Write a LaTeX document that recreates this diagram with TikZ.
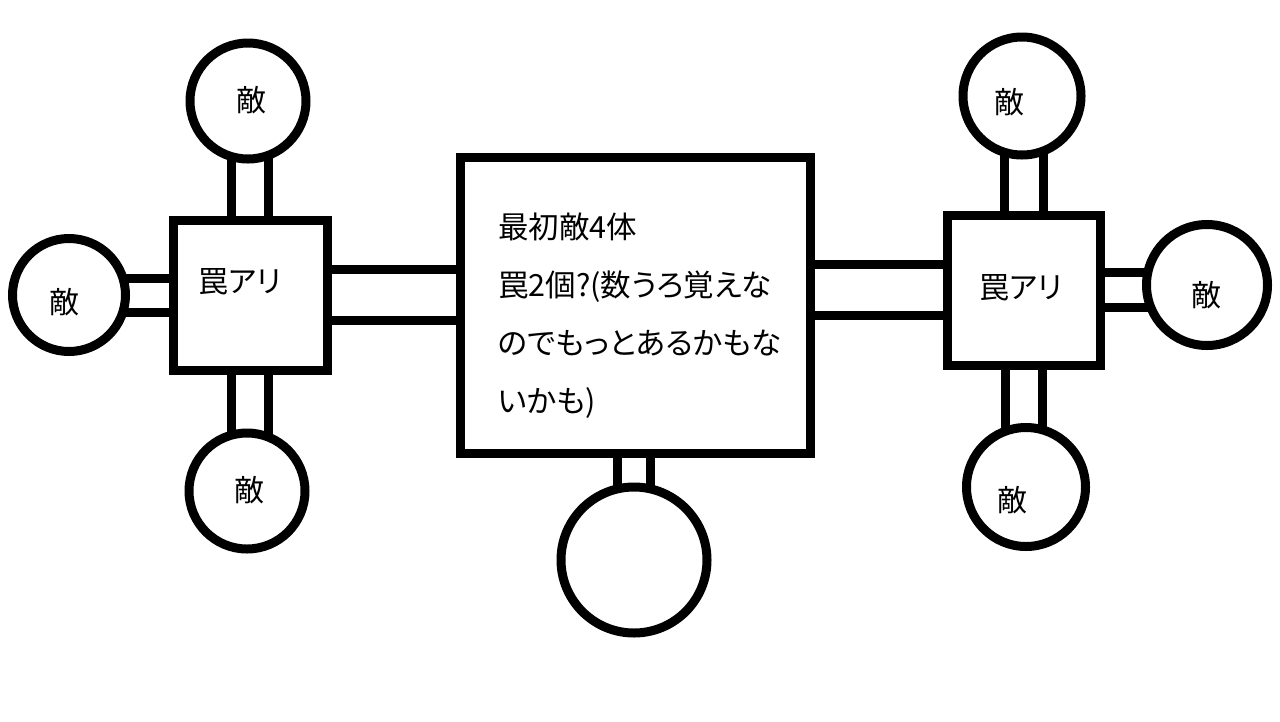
\documentclass[tikz,border=0pt]{standalone}
\usepackage{fontspec}
\newfontfamily\jpfont[RawFeature=+palt]{Noto Sans CJK JP}
\usetikzlibrary{backgrounds}

\tikzset{
  room/.style={draw, line width=9pt, fill=white, rectangle, inner sep=0pt},
  enemy/.style={draw, line width=9pt, fill=white, circle, inner sep=0pt},
  tag/.style={inner sep=0pt, font=\jpfont\fontsize{30}{36}\selectfont},
  memo/.style={inner sep=0pt, align=left,
    font=\jpfont\fontsize{30.5}{58}\selectfont},
  corridor/.style={line width=9pt, double=white, double distance=28pt},
  hall/.style={corridor, double distance=42pt},
}

\begin{document}
\begin{tikzpicture}[x=1pt, y=-1pt]

  \useasboundingbox (0,0) rectangle (1280,721);

  % Rooms
  \node[room, minimum width=154pt, minimum height=150pt,
    label={[tag, xshift=-10pt, yshift=13pt]center:罠アリ}] (ltrap) at (250,295) {};
  \node[room, minimum width=153pt, minimum height=150pt,
    label={[tag, xshift=-3pt, yshift=2pt]center:罠アリ}] (rtrap) at (1024,290) {};
  \node[room, minimum width=350pt, minimum height=296pt] (main) at (635,305) {};
  \node[memo, anchor=north west] (note) at (498,213)
    {最初敵4体\\罠2個?(数うろ覚えな\\のでもっとあるかもな\\いかも)};

  % Enemies round the left trap room
  \node[enemy, minimum size=116pt, label={[tag, xshift=3pt, yshift=1pt]center:敵}] (lt) at (248,101) {};
  \node[enemy, minimum size=113pt, label={[tag, xshift=-5pt, yshift=-7pt]center:敵}] (lw) at (69,295) {};
  \node[enemy, minimum size=116pt, label={[tag, xshift=2pt, yshift=1pt]center:敵}] (lb) at (247,491) {};

  % Enemies round the right trap room
  \node[enemy, minimum size=118pt, label={[tag, xshift=-13pt, yshift=-6pt]center:敵}] (rt) at (1022,96) {};
  \node[enemy, minimum size=121pt, label={[tag, xshift=-1pt, yshift=-10pt]center:敵}] (re) at (1207,285) {};
  \node[enemy, minimum size=119pt, label={[tag, xshift=-14pt, yshift=-13pt]center:敵}] (rb) at (1026,487) {};

  % Empty room below
  \node[enemy, minimum size=146pt] (bot) at (634,560) {};

  % Corridors
  \begin{pgfonlayer}{background}
    \draw[corridor] (ltrap.center) -- (ltrap.center |- lt.center);
    \draw[corridor, double distance=25pt] (ltrap.center) -- (ltrap.center -| lw.center);
    \draw[corridor] (ltrap.center) -- (ltrap.center |- lb.center);
    \draw[hall] (ltrap.center) -- (ltrap.center -| main.center);
    \draw[hall] (rtrap.center) -- (rtrap.center -| main.center);
    \draw[corridor, double distance=30pt] (rtrap.center) -- (rtrap.center |- rt.center);
    \draw[corridor, double distance=26pt] (rtrap.center) -- (rtrap.center -| re.center);
    \draw[corridor] (rtrap.center) -- (rtrap.center |- rb.center);
    \draw[corridor, double distance=24pt] (bot.center) -- (bot.center |- main.center);
  \end{pgfonlayer}

\end{tikzpicture}
\end{document}
